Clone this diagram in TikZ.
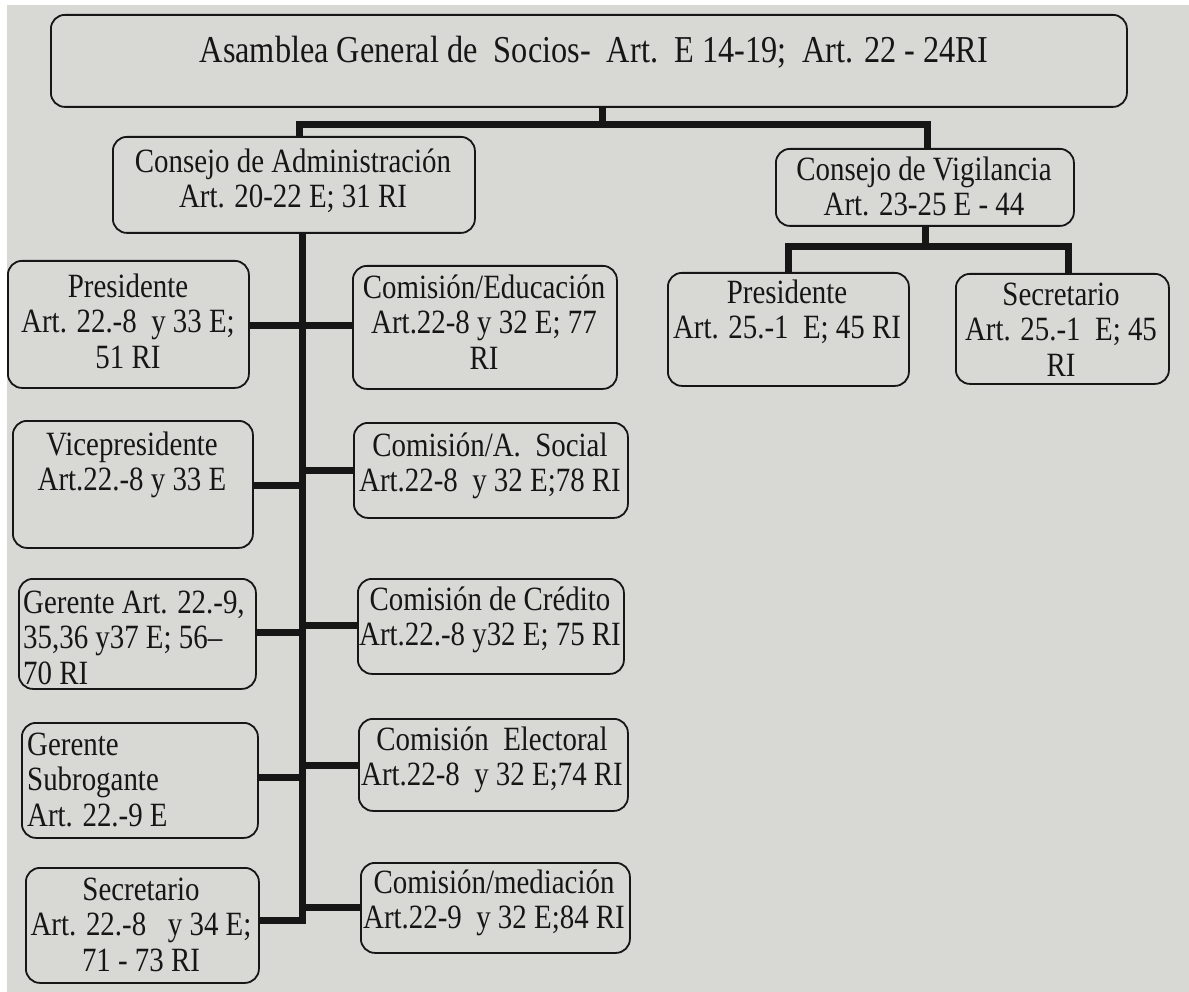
\documentclass[tikz,border=0pt]{standalone}
\usepackage{fontspec}
\setmainfont{Liberation Serif}[FakeStretch=0.85]
\definecolor{page}{RGB}{216,216,213}
\definecolor{ink}{RGB}{22,22,22}
% fixed first-line height, so every text block hangs from the same point
\newcommand\topstrut{\rule{0pt}{25pt}}
\begin{document}
\begin{tikzpicture}[x=1pt,y=-1pt,
  orgbox/.style={draw=ink, line width=1.8pt, rounded corners=14pt, inner sep=0pt, anchor=north west},
  txt/.style={font=\fontsize{34}{35.5}\selectfont, text=ink, inner sep=0pt, align=center, anchor=north},
  ltxt/.style={txt, align=left, anchor=north west},
  link/.style={draw=ink, line width=7pt, line join=miter}]
% page
\useasboundingbox (0,0) rectangle (1189,992);
\fill[white] (0,0) rectangle (1189,992);
\fill[page] (7,5) rectangle (1189,992);

% boxes
\node[orgbox, minimum width=1076pt, minimum height=92pt] (asam) at (50,14) {};
\node[orgbox, minimum width=362pt, minimum height=96pt] (admin) at (112,136) {};
\node[orgbox, minimum width=298pt, minimum height=77pt] (vigil) at (775,148) {};
\node[orgbox, minimum width=241pt, minimum height=113pt] (vpres) at (667,272) {};
\node[orgbox, minimum width=213pt, minimum height=110pt] (vsec) at (955,273) {};

\node[orgbox, minimum width=241pt, minimum height=127pt] (pres) at (7,260) {};
\node[orgbox, minimum width=240pt, minimum height=127pt] (vice) at (12,420) {};
\node[orgbox, minimum width=237pt, minimum height=110pt] (ger) at (18,578) {};
\node[orgbox, minimum width=236pt, minimum height=115pt] (gsub) at (21,722) {};
\node[orgbox, minimum width=233pt, minimum height=115pt] (sec) at (25,867) {};

\node[orgbox, minimum width=264pt, minimum height=123pt] (edu) at (352,265) {};
\node[orgbox, minimum width=274pt, minimum height=95pt] (soc) at (353,422) {};
\node[orgbox, minimum width=266pt, minimum height=95pt] (cred) at (357,578) {};
\node[orgbox, minimum width=269pt, minimum height=92pt] (elec) at (358,718) {};
\node[orgbox, minimum width=269pt, minimum height=90pt] (med) at (360,862) {};

% texts (each placed 25pt above its first baseline)
\node[txt, font=\fontsize{38}{40}\selectfont] (asam-t) at (594,36) {\topstrut Asamblea General de\ \ Socios-\ \ Art.\ \ E\ 14-19;\ \ Art. 22 - 24RI};
\node[txt] (admin-t) at (293,147) {\topstrut Consejo de Administración\\Art. 20-22 E; 31 RI};
\node[txt] (vigil-t) at (924,155) {\topstrut Consejo de Vigilancia\\Art. 23-25 E - 44};
\node[txt] (vpres-t) at (787,278) {\topstrut Presidente\\Art. 25.-1\ \ E; 45 RI};
\node[txt] (vsec-t) at (1061,280) {\topstrut Secretario\\Art. 25.-1\ \ E; 45\\RI};

\node[txt] (pres-t) at (128,272) {\topstrut Presidente\\Art. 22.-8\ \ y 33 E;\\51 RI};
\node[txt] (vice-t) at (132,430) {\topstrut Vicepresidente\\Art.22.-8 y 33 E};
\node[ltxt] (ger-t) at (23,588) {\topstrut Gerente Art. 22.-9,\\35,36 y37 E; 56–\\70 RI};
\node[ltxt] (gsub-t) at (27,730) {\topstrut Gerente\\Subrogante\\Art. 22.-9 E};
\node[txt] (sec-t) at (141,875) {\topstrut Secretario\\Art. 22.-8\ \ \ y 34 E;\\71 - 73 RI};

\node[txt] (edu-t) at (484,273) {\topstrut Comisión/Educación\\Art.22-8 y 32 E; 77\\RI};
\node[txt] (soc-t) at (490,431) {\topstrut Comisión/A.\ \ Social\\Art.22-8\ \ y 32 E;78 RI};
\node[txt] (cred-t) at (490,585) {\topstrut Comisión de Crédito\\Art.22.-8 y32 E; 75 RI};
\node[txt] (elec-t) at (492,725) {\topstrut Comisión\ \ Electoral\\Art.22-8\ \ y 32 E;74 RI};
\node[txt] (med-t) at (494,868) {\topstrut Comisión/mediación\\Art.22-9\ \ y 32 E;84 RI};

% junctions
\coordinate (t0) at (602,125);
\coordinate (bL) at (299,125);
\coordinate (bR) at (927,125);
\coordinate (v0) at (925,247);
\coordinate (vL) at (788,247);
\coordinate (vR) at (1068,247);
\coordinate (sTop) at (302,232);
\coordinate (j1) at (302,326);
\coordinate (j2L) at (302,485);
\coordinate (j2R) at (302,470);
\coordinate (j3L) at (302,632);
\coordinate (j3R) at (302,625);
\coordinate (j4L) at (302,777);
\coordinate (j4R) at (302,765);
\coordinate (j5L) at (302,920);
\coordinate (j5R) at (302,907);

% connectors
\draw[link] (asam.south -| t0) -- (t0);
\draw[link] (admin.north -| bL) -- (bL) -- (bR) -- (vigil.north -| bR);
\draw[link] (vigil.south -| v0) -- (v0);
\draw[link] (vpres.north -| vL) -- (vL) -- (vR) -- (vsec.north -| vR);

\draw[link] (sec.east |- j5L) -- (j5L) -- (admin.south -| sTop);
\draw[link] (pres.east |- j1) -- (edu.west |- j1);
\draw[link] (vice.east |- j2L) -- (j2L);
\draw[link] (j2R) -- (soc.west |- j2R);
\draw[link] (ger.east |- j3L) -- (j3L);
\draw[link] (j3R) -- (cred.west |- j3R);
\draw[link] (gsub.east |- j4L) -- (j4L);
\draw[link] (j4R) -- (elec.west |- j4R);
\draw[link] (j5R) -- (med.west |- j5R);
\end{tikzpicture}
\end{document}
